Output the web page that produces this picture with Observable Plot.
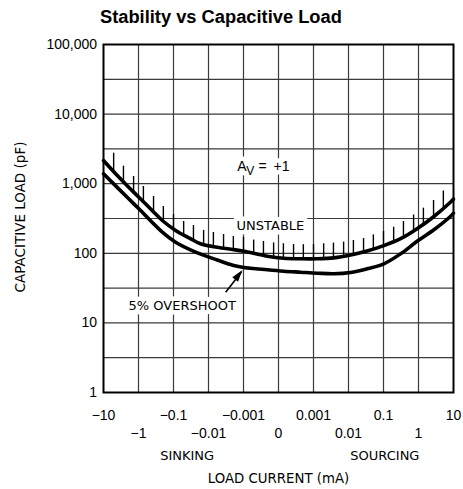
<!DOCTYPE html>
<html><head><meta charset="utf-8">
<script src="https://cdn.jsdelivr.net/npm/d3@7"></script>
<script src="https://cdn.jsdelivr.net/npm/@observablehq/plot@0.6"></script>
<style>
html,body{margin:0;padding:0;background:#fff;}
#wrap{position:relative;width:463px;height:489px;overflow:hidden;}
#title{position:absolute;left:100px;top:8px;font:bold 18.3px "Liberation Sans",Arial,sans-serif;line-height:18px;white-space:nowrap;color:#000;}
#chart{position:absolute;left:0;top:30px;}
</style></head><body>
<div id="wrap"><div id="title">Stability vs Capacitive Load</div><div id="chart"></div></div>
<script>
// x positions are equally spaced indices 0..10 labelled with the load currents
const xTickLabels = ["−10","−1","−0.1","−0.01","−0.001","0","0.001","0.01","0.1","1","10"];
const xTopRow = [0, 2, 4, 6, 8, 10];
const xBottomRow = [1, 3, 5, 7, 9];
const yTicks = [1, 10, 100, 1000, 10000, 100000];
const yGrid = [3.162, 10, 31.62, 100, 316.2, 1000, 3162, 10000, 31620];
const xGrid = [1, 2, 3, 4, 5, 6, 7, 8, 9];

// Unstable boundary (upper curve)
const unstableX = [0, 0.34, 0.72, 1.01, 1.39, 1.68, 2.06, 2.44, 2.77, 3.25, 3.72, 4.01, 4.68, 5.15, 5.63, 6.11, 6.58, 7.06, 7.53, 8.01, 8.49, 8.96, 9.44, 9.91, 10];
const unstableY = [2150, 1400, 890, 640, 412, 296, 213, 167, 137, 122, 113, 107, 91, 85, 83.4, 83.4, 86, 94.5, 108, 129, 162, 225, 338, 542, 603];

// 5% overshoot (lower curve)
const overshootX = [0, 0.72, 1.01, 1.68, 2.06, 2.63, 3.25, 3.72, 4.01, 4.68, 5.15, 5.63, 6.11, 6.58, 7.06, 7.53, 8.01, 8.49, 8.96, 9.44, 9.91, 10];
const overshootY = [1388, 607, 436, 201, 144, 104, 80, 66.8, 62.5, 57.9, 55.3, 53.5, 51.8, 50.8, 53, 59.9, 70.7, 98.4, 149, 218, 338, 377];

// hatching above the unstable boundary
const hatchX = [0.29,0.57,0.86,1.14,1.43,1.71,2,2.29,2.57,2.86,3.14,3.43,3.71,4,4.29,4.57,4.86,5.14,5.43,5.71,6,6.29,6.57,6.86,7.14,7.43,7.71,8,8.29,8.57,8.86,9.14,9.43,9.71];
const hatchTop = [2743,1784,1269,911,655,470,361,286,251,213,199,186,174,169,155,148,141,137,134,133,133,137,140,145,153,163,184,206,237,286,355,445,574,786];
const hatchBase = [1548,1094,772,555,399,286,227,183,158,135,125,119,113,107,101,93.6,88.5,85,84.2,83.4,83.4,84.2,86.2,90.5,96.1,104,116,129,146,171,209,262,334,448];

const unstable = unstableX.map((x, i) => ({x, y: unstableY[i]}));
const overshoot = overshootX.map((x, i) => ({x, y: overshootY[i]}));
const hatch = hatchX.map((x, i) => ({x, y1: hatchTop[i], y2: hatchBase[i]}));

const notes = [
  {x: 3.82, y: 1522, t: "A", dx: 0, dy: 0, size: 14, font: "Liberation Sans", anchor: "start"},
  {x: 3.82, y: 1522, t: "V", dx: 9, dy: 4, size: 12, font: "Liberation Sans", anchor: "start"},
  {x: 3.82, y: 1522, t: "=\u2002+1", dx: 21.2, dy: 0, size: 14, font: "Liberation Sans", anchor: "start"},
  {x: 4.77, y: 213, t: "UNSTABLE", dx: 0, dy: 0, size: 13, font: "DejaVu Sans", anchor: "middle"},
  {x: 2.25, y: 15.4, t: "5% OVERSHOOT", dx: 0, dy: 0, size: 13, font: "DejaVu Sans", anchor: "middle"}
];
function noteMarks(halo) {
  return notes.map(n => Plot.text([n], {
    x: "x", y: "y", text: "t", dx: n.dx, dy: n.dy, fontSize: n.size, fontFamily: n.font,
    textAnchor: n.anchor, lineAnchor: "bottom",
    fill: halo ? "white" : "black",
    stroke: halo ? "white" : "none", strokeWidth: halo ? 9 : 0, strokeLinejoin: "round"
  }));
}

const arrowHead = {draw(ctx) { ctx.moveTo(0, 0); ctx.lineTo(3.6, 12); ctx.lineTo(-3.6, 12); ctx.closePath(); }};

const chart = Plot.plot({
  width: 463, height: 459,
  marginTop: 14, marginBottom: 97, marginLeft: 103, marginRight: 10,
  style: {fontFamily: '"Liberation Sans", Arial, sans-serif', fontSize: "14px", background: "white", color: "black"},
  x: {domain: [0, 10]},
  y: {type: "log", domain: [1, 100000]},
  marks: [
    Plot.ruleX(xGrid, {stroke: "#3a3a3a", strokeWidth: 1.2}),
    Plot.ruleY(yGrid, {stroke: "#3a3a3a", strokeWidth: 1.2}),
    ...noteMarks(true),
    ...noteMarks(false),
    Plot.ruleX(hatch, {x: "x", y1: "y1", y2: "y2", stroke: "black", strokeWidth: 1.4}),
    Plot.line(unstable, {x: "x", y: "y", stroke: "black", strokeWidth: 3.6, curve: "catmull-rom"}),
    Plot.line(overshoot, {x: "x", y: "y", stroke: "black", strokeWidth: 3.6, curve: "catmull-rom"}),
    Plot.link([{x1: 3.49, y1: 27.6, x2: 3.94, y2: 54}], {x1: "x1", y1: "y1", x2: "x2", y2: "y2", stroke: "black", strokeWidth: 1.6}),
    Plot.dot([{x: 3.97, y: 57.5}], {x: "x", y: "y", symbol: arrowHead, r: 5, fill: "black", stroke: "none", rotate: 37.4}),
    Plot.frame({stroke: "black", strokeWidth: 2}),
    Plot.axisY({ticks: yTicks, tickFormat: d3.format(","), tickSize: 0, tickPadding: 6.5, fontSize: 14, label: null}),
    Plot.axisX({ticks: xTopRow, tickFormat: d => xTickLabels[d], tickSize: 0, tickPadding: 17.4, fontSize: 14, label: null}),
    Plot.axisX({ticks: xBottomRow, tickFormat: d => xTickLabels[d], tickSize: 0, tickPadding: 35.4, fontSize: 14, label: null}),
    Plot.text([{t: "CAPACITIVE LOAD (pF)"}], {text: "t", frameAnchor: "left", textAnchor: "middle", dx: -83, dy: -1.5, rotate: -90, fontFamily: "DejaVu Sans", fontSize: 13.5}),
    Plot.text([{x: 2.39, t: "SINKING"}, {x: 8.04, t: "SOURCING"}], {x: "x", text: "t", frameAnchor: "bottom", dy: 67.3, lineAnchor: "bottom", fontFamily: "DejaVu Sans", fontSize: 13}),
    Plot.text([{x: 5.0, t: "LOAD CURRENT (mA)"}], {x: "x", text: "t", frameAnchor: "bottom", dy: 90.7, lineAnchor: "bottom", fontFamily: "DejaVu Sans", fontSize: 13.3})
  ]
});
document.getElementById("chart").appendChild(chart);
</script>
</body></html>
